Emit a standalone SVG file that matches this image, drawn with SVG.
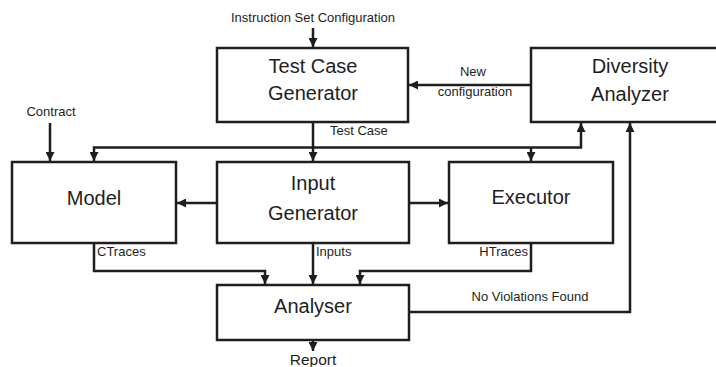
<svg xmlns="http://www.w3.org/2000/svg" width="716" height="367" viewBox="0 0 716 367">
  <style>
    .box { fill: #ffffff; stroke: #1e1e1e; stroke-width: 2.5; }
    .big { font-family: "Liberation Sans", Arial, sans-serif; font-size: 20px; fill: #1e1e1e; text-anchor: middle; }
    .lbl { font-family: "Liberation Sans", Arial, sans-serif; font-size: 13px; fill: #1e1e1e; }
    .wire { fill: none; stroke: #1e1e1e; stroke-width: 2.5; }
    .arr { marker-end: url(#head); }
  </style>
  <defs>
    <marker id="head" viewBox="0 0 10 10" refX="10" refY="5" markerWidth="10" markerHeight="9" markerUnits="userSpaceOnUse" orient="auto">
      <path d="M0,0 L10,5 L0,10 z" fill="#1e1e1e"/>
    </marker>
  </defs>
  <rect width="716" height="367" fill="#ffffff"/>

  <g id="connectors">
    <path class="wire arr" d="M313,28 L313,47"/>
    <path class="wire arr" d="M50,123 L50,161"/>
    <path class="wire arr" d="M313,122 L313,161"/>
    <path class="wire arr" d="M313,147.5 L94,147.5 L94,161"/>
    <path class="wire arr" d="M313,147.5 L581,147.5 L581,123"/>
    <path class="wire arr" d="M531,147.5 L531,161"/>
    <path class="wire arr" d="M531,85 L409,85"/>
    <path class="wire arr" d="M217,203 L177,203"/>
    <path class="wire arr" d="M409,203 L448,203"/>
    <path class="wire arr" d="M94,243 L94,271 L265,271 L265,284"/>
    <path class="wire arr" d="M313,243 L313,284"/>
    <path class="wire arr" d="M531,243 L531,271 L360,271 L360,284"/>
    <path class="wire arr" d="M409,312 L630,312 L630,123"/>
    <path class="wire arr" d="M313,340 L313,351"/>
    <text class="lbl" x="313" y="22" text-anchor="middle">Instruction Set Configuration</text>
    <text class="lbl" x="51" y="116" text-anchor="middle">Contract</text>
    <text class="lbl" x="330" y="135">Test Case</text>
    <text class="lbl" x="473" y="76" text-anchor="middle">New</text>
    <text class="lbl" x="475" y="96" text-anchor="middle">configuration</text>
    <text class="lbl" x="97" y="256">CTraces</text>
    <text class="lbl" x="316" y="256">Inputs</text>
    <text class="lbl" x="528" y="256" text-anchor="end">HTraces</text>
    <text class="lbl" x="530" y="301" text-anchor="middle">No Violations Found</text>
    <text class="lbl" x="313" y="365" text-anchor="middle" style="font-size:15.5px">Report</text>
  </g>

  <g id="test-case-generator">
    <rect class="box" x="217" y="48" width="191" height="74"/>
    <text class="big" x="313" y="73">Test Case</text>
    <text class="big" x="313" y="100">Generator</text>
  </g>

  <g id="diversity-analyzer">
    <rect class="box" x="531" y="48" width="200" height="74"/>
    <text class="big" x="630" y="73">Diversity</text>
    <text class="big" x="630" y="101">Analyzer</text>
  </g>

  <g id="model">
    <rect class="box" x="12" y="162" width="164" height="81"/>
    <text class="big" x="94" y="205">Model</text>
  </g>

  <g id="input-generator">
    <rect class="box" x="217" y="162" width="192" height="81"/>
    <text class="big" x="313" y="190">Input</text>
    <text class="big" x="313" y="220">Generator</text>
  </g>

  <g id="executor">
    <rect class="box" x="449" y="162" width="164" height="81"/>
    <text class="big" x="531" y="204">Executor</text>
  </g>

  <g id="analyser">
    <rect class="box" x="217" y="285" width="192" height="55"/>
    <text class="big" x="313" y="313">Analyser</text>
  </g>
</svg>
